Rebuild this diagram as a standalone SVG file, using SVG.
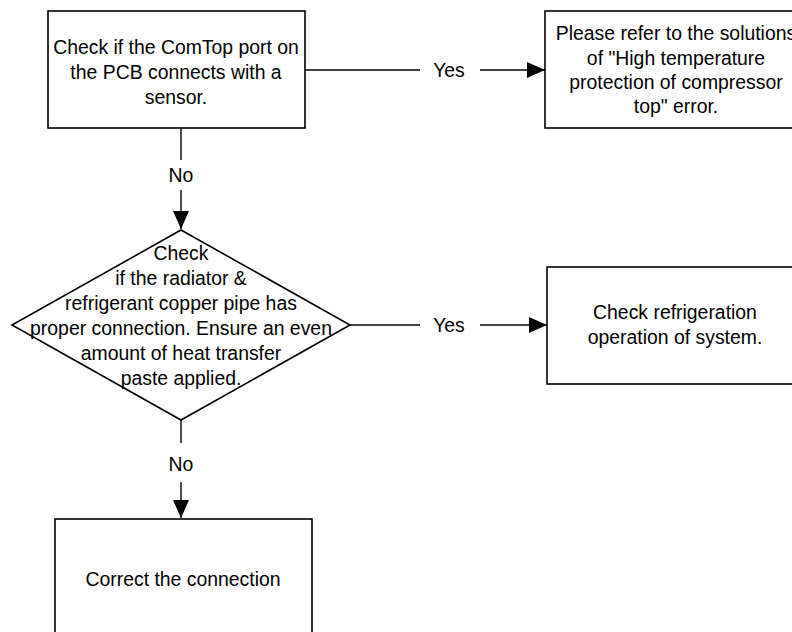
<svg xmlns="http://www.w3.org/2000/svg" width="792" height="632" viewBox="0 0 792 632">
<defs>
<marker id="arr" viewBox="0 0 18 16" refX="18" refY="8" markerWidth="18" markerHeight="16" markerUnits="userSpaceOnUse" orient="auto">
<path d="M0,0 L18,8 L0,16 Z" fill="#000"/>
</marker>
</defs>
<style>
.box{fill:#fff;stroke:#000;stroke-width:1.6}
.ln{fill:none;stroke:#000;stroke-width:1.4}
text{font-family:"Liberation Sans",Arial,sans-serif;font-size:19.4px;fill:#000;text-anchor:middle}
</style>
<rect width="792" height="632" fill="#fff"/>
<g id="connectors">
<line class="ln" x1="305" y1="70" x2="420" y2="70"/>
<line class="ln" x1="480" y1="70" x2="545" y2="70" marker-end="url(#arr)"/>
<text x="449" y="77">Yes</text>
<line class="ln" x1="350" y1="325" x2="420" y2="325"/>
<line class="ln" x1="480" y1="325" x2="547" y2="325" marker-end="url(#arr)"/>
<text x="449" y="332">Yes</text>
<line class="ln" x1="181" y1="128" x2="181" y2="160"/>
<line class="ln" x1="181" y1="190" x2="181" y2="229" marker-end="url(#arr)"/>
<text x="181" y="182">No</text>
<line class="ln" x1="181" y1="420" x2="181" y2="443"/>
<line class="ln" x1="181" y1="482" x2="181" y2="518" marker-end="url(#arr)"/>
<text x="181" y="471">No</text>
</g>
<g id="n1">
<rect class="box" x="48" y="11" width="257" height="117"/>
<text x="176" y="54">Check if the ComTop port on</text>
<text x="176" y="79">the PCB connects with a</text>
<text x="176" y="104">sensor.</text>
</g>
<g id="n2">
<rect class="box" x="545" y="11" width="262" height="117"/>
<text x="676" y="40">Please refer to the solutions</text>
<text x="676" y="65">of "High temperature</text>
<text x="676" y="89">protection of compressor</text>
<text x="676" y="113">top" error.</text>
</g>
<g id="n3">
<polygon class="box" points="181,230 350,325 181,420 12,325"/>
<text x="181" y="260">Check</text>
<text x="181" y="285">if the radiator &amp;</text>
<text x="181" y="310">refrigerant copper pipe has</text>
<text x="181" y="335">proper connection. Ensure an even</text>
<text x="181" y="360">amount of heat transfer</text>
<text x="181" y="385">paste applied.</text>
</g>
<g id="n4">
<rect class="box" x="547" y="267" width="258" height="117"/>
<text x="675" y="319">Check refrigeration</text>
<text x="675" y="344">operation of system.</text>
</g>
<g id="n5">
<rect class="box" x="55" y="519" width="257" height="117"/>
<text x="183" y="586">Correct the connection</text>
</g>
</svg>
